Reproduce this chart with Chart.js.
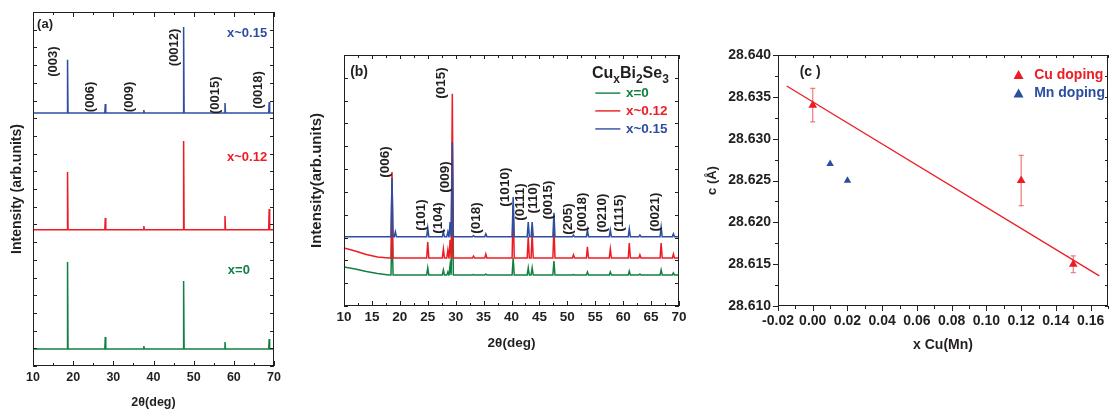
<!DOCTYPE html>
<html>
<head>
<meta charset="utf-8">
<script src="https://cdn.jsdelivr.net/npm/chart.js@4.4.1/dist/chart.umd.min.js"></script>
<style>
  body { margin: 0; background: #fff; width: 1113px; height: 410px; position: relative; overflow: hidden; }
  canvas { position: absolute; top: 0; }
</style>
</head>
<body>
<canvas id="chartA" width="285" height="410" style="left:0"></canvas>
<canvas id="chartB" width="395" height="410" style="left:300px"></canvas>
<canvas id="chartC" width="413" height="410" style="left:700px"></canvas>
<script>
// ---- panel (a): wide-range XRD, three samples stacked
const aPeakPos  = [18.6, 28.0, 37.6, 47.5, 57.8, 68.8];
const aTopBlue  = [17.30, 14.80, 14.46, 19.15, 14.86, 14.92];
const aTopRed   = [10.96, 8.36, 7.91, 12.71, 8.47, 8.87];
const aTopGreen = [5.88, 1.64, 1.13, 4.80, 1.36, 1.53];
const aBaseBlue = 14.29, aBaseRed = 7.70, aBaseGreen = 0.96;
const aHkl = ['(003)', '(006)', '(009)', '(0012)', '(0015)', '(0018)'];

// ---- panel (b): zoomed XRD
const bPeakPos  = [18.6, 19.2, 25.0, 27.8, 28.6, 29.0, 29.4, 33.2, 35.4, 40.3, 43.0, 43.7, 47.6, 51.1, 53.6, 57.7, 61.1, 63.0, 66.8, 69.0];
const bTopBlue  = [5.61, 3.25, 3.42, 3.25, 3.25, 3.68, 7.19, 3.08, 3.16, 4.78, 3.68, 3.68, 4.08, 3.11, 3.33, 3.33, 3.38, 3.11, 3.46, 3.16];
const bTopRed   = [5.87, 2.10, 2.80, 2.50, 2.45, 2.89, 9.30, 2.19, 2.28, 4.43, 3.02, 3.20, 3.42, 2.24, 2.59, 2.50, 2.76, 2.24, 2.76, 2.28];
const bTopGreen = [3.33, 1.36, 1.67, 1.58, 1.49, 1.80, 4.43, 1.38, 1.40, 2.10, 1.67, 1.67, 1.97, 1.38, 1.49, 1.49, 1.53, 1.40, 1.58, 1.45];
const bBgX      = [10, 12, 14, 16, 18];
const bBgRed    = [2.54, 2.41, 2.26, 2.15, 2.10];
const bBgGreen  = [1.71, 1.62, 1.51, 1.42, 1.36];
const bBaseBlue = 3.04, bBaseRed = 2.10, bBaseGreen = 1.36;
const bSeries = ['x=0', 'x~0.12', 'x~0.15'];

// ---- panel (c): lattice parameter c vs doping
const cuX = [0.00, 0.12, 0.15];
const cuC = [28.634, 28.625, 28.615];
const cuErr = [0.002, 0.003, 0.001];
const mnX = [0.01, 0.02];
const mnC = [28.627, 28.625];
const fitX = [-0.015, 0.165];
const fitC = [28.6363, 28.6136];

const FONT = "'Liberation Sans', Arial, sans-serif";
const INK = '#231f20';
const BLUE = '#2d4ea0', RED = '#ed1c24', GREEN = '#128040', PINK = '#f27a7a';

Chart.defaults.font.family = FONT;
Chart.defaults.color = INK;
Chart.defaults.animation = false;
Chart.defaults.plugins.legend.display = false;
Chart.defaults.plugins.tooltip.enabled = false;

// stick pattern: background points, then a narrow triangle per peak
function trace(pos, tops, base, w, bgX, bgY) {
    const pts = [];
    if (bgX) bgX.forEach((x, i) => pts.push({x: x, y: bgY[i]}));
    else pts.push({x: 10, y: base});
    pos.forEach((p, i) => {
        pts.push({x: p - w, y: base}, {x: p, y: tops[i]}, {x: p + w, y: base});
    });
    pts.push({x: 70, y: base});
    return pts;
}

function lineSet(data, color) {
    return { data: data, borderColor: color, borderWidth: 1.5, pointRadius: 0, tension: 0 };
}

// box + tick marks. each tick: [value, lenA, lenB], positive = inward
const framePlugin = {
    id: 'frame',
    afterDatasetsDraw(chart, args, o) {
        const {ctx, chartArea: a, scales: {x, y}} = chart;
        ctx.save();
        ctx.strokeStyle = INK;
        ctx.lineWidth = 1;
        ctx.strokeRect(a.left + 0.5, a.top + 0.5, a.right - a.left - 1, a.bottom - a.top - 1);
        ctx.beginPath();
        (o.xTicks || []).forEach(([v, lb, lt]) => {
            const px = Math.round(x.getPixelForValue(v)) + 0.5;
            ctx.moveTo(px, a.bottom); ctx.lineTo(px, a.bottom - lb);
            ctx.moveTo(px, a.top); ctx.lineTo(px, a.top + lt);
        });
        (o.yTicks || []).forEach(([v, ll, lr]) => {
            const py = Math.round(y.getPixelForValue(v)) + 0.5;
            ctx.moveTo(a.left, py); ctx.lineTo(a.left + ll, py);
            ctx.moveTo(a.right, py); ctx.lineTo(a.right - lr, py);
        });
        ctx.stroke();
        ctx.restore();
    }
};

// free text at data coordinates; parts allow subscripts
const notesPlugin = {
    id: 'notes',
    afterDraw(chart, args, o) {
        const {ctx, scales: {x, y}} = chart;
        (o.items || []).forEach(n => {
            ctx.save();
            ctx.translate(x.getPixelForValue(n.x), y.getPixelForValue(n.y));
            if (n.rot) ctx.rotate(-Math.PI / 2);
            ctx.fillStyle = n.color || INK;
            ctx.textBaseline = n.baseline || 'middle';
            if (n.parts) {
                let cx = 0;
                ctx.textAlign = 'left';
                n.parts.forEach(([t, sub]) => {
                    ctx.font = 'bold ' + (sub ? n.size * 0.75 : n.size) + 'px ' + FONT;
                    ctx.fillText(t, cx, sub ? n.size * 0.3 : 0);
                    cx += ctx.measureText(t).width;
                });
            } else {
                ctx.font = 'bold ' + n.size + 'px ' + FONT;
                ctx.textAlign = n.align || 'center';
                ctx.fillText(n.text, 0, 0);
            }
            ctx.restore();
        });
        (o.lines || []).forEach(l => {
            ctx.save();
            ctx.strokeStyle = l.color;
            ctx.lineWidth = 1.4;
            ctx.beginPath();
            ctx.moveTo(x.getPixelForValue(l.x0), y.getPixelForValue(l.y));
            ctx.lineTo(x.getPixelForValue(l.x1), y.getPixelForValue(l.y));
            ctx.stroke();
            ctx.restore();
        });
        (o.markers || []).forEach(m => {
            const px = x.getPixelForValue(m.x), py = y.getPixelForValue(m.y);
            ctx.save();
            ctx.fillStyle = m.color;
            ctx.beginPath();
            ctx.moveTo(px, py - 5); ctx.lineTo(px + 5, py + 4); ctx.lineTo(px - 5, py + 4);
            ctx.closePath();
            ctx.fill();
            ctx.restore();
        });
    }
};

const errPlugin = {
    id: 'errbars',
    beforeDatasetsDraw(chart) {
        const {ctx, scales: {x, y}} = chart;
        ctx.save();
        ctx.strokeStyle = PINK;
        ctx.lineWidth = 1.2;
        ctx.beginPath();
        cuX.forEach((v, i) => {
            const px = x.getPixelForValue(v);
            const y0 = y.getPixelForValue(cuC[i] - cuErr[i]);
            const y1 = y.getPixelForValue(cuC[i] + cuErr[i]);
            ctx.moveTo(px, y0); ctx.lineTo(px, y1);
            ctx.moveTo(px - 2.5, y0); ctx.lineTo(px + 2.5, y0);
            ctx.moveTo(px - 2.5, y1); ctx.lineTo(px + 2.5, y1);
        });
        ctx.stroke();
        ctx.restore();
    }
};

function range(a, b, s) {
    const out = [];
    for (let v = a; v <= b + s / 1000; v += s) out.push(Math.round(v * 10000) / 10000);
    return out;
}

const noGrid = { display: false, drawTicks: false };
const flat = { maxRotation: 0, minRotation: 0, autoSkip: false };

function loadCharts() {
    // ---------- (a)
    const aX = range(10, 70, 5).map(v => v % 10 === 0 ? [v, 5, 5] : [v, 3, 3]);
    const aY = range(0, 20, 1).map(v => [v, 4, 4]);
    new Chart(document.getElementById('chartA'), {
        type: 'line',
        data: {
            datasets: [
                lineSet(trace(aPeakPos, aTopBlue, aBaseBlue, 0.12), BLUE),
                lineSet(trace(aPeakPos, aTopRed, aBaseRed, 0.12), RED),
                lineSet(trace(aPeakPos, aTopGreen, aBaseGreen, 0.12), GREEN)
            ]
        },
        options: {
            responsive: false,
            devicePixelRatio: 1,
            layout: { padding: { left: 0, right: 11, top: 12, bottom: 0 } },
            scales: {
                x: {
                    type: 'linear', min: 10, max: 70,
                    ticks: Object.assign({ stepSize: 10, padding: 4, font: { size: 12.5, weight: 'bold' }, color: INK }, flat),
                    grid: noGrid, border: { display: false },
                    title: { display: true, text: '2θ(deg)', font: { size: 12.5, weight: 'bold' }, padding: { top: 0, bottom: 0 } },
                    afterFit: s => { s.height = 44; }
                },
                y: {
                    min: 0, max: 20,
                    ticks: { display: false },
                    grid: noGrid, border: { display: false },
                    title: { display: true, text: 'Intensity (arb.units)', font: { size: 14, weight: 'bold' }, padding: { top: 9, bottom: 0 } },
                    afterFit: s => { s.width = 33; }
                }
            },
            plugins: {
                frame: { xTicks: aX, yTicks: aY },
                notes: {
                    items: [
                        { text: '(a)', x: 13.0, y: 19.3, size: 13 },
                        { text: 'x~0.15', x: 68.3, y: 18.8, size: 13, align: 'right', color: BLUE },
                        { text: 'x~0.12', x: 68.3, y: 11.8, size: 13, align: 'right', color: RED },
                        { text: 'x=0', x: 64.0, y: 5.42, size: 13, align: 'right', color: GREEN },
                        { text: aHkl[0], x: 15.0, y: 17.2, size: 13, rot: true },
                        { text: aHkl[1], x: 24.2, y: 15.2, size: 13, rot: true },
                        { text: aHkl[2], x: 34.1, y: 15.2, size: 13, rot: true },
                        { text: aHkl[3], x: 45.3, y: 18.0, size: 13, rot: true },
                        { text: aHkl[4], x: 55.5, y: 15.3, size: 13, rot: true },
                        { text: aHkl[5], x: 66.0, y: 15.6, size: 13, rot: true }
                    ]
                }
            }
        },
        plugins: [framePlugin, notesPlugin]
    });

    // ---------- (b)
    const bX = range(10, 70, 2.5).map(v => v % 5 === 0 ? [v, 5, 4] : [v, 3, 3]);
    const bY = range(0, 11, 1).map(v => [v, 4, 4]);
    const hklB = [
        ['(006)', 17.35, 6.31], ['(101)', 23.8, 3.99], ['(104)', 26.8, 3.86], ['(009)', 28.1, 5.65],
        ['(015)', 27.5, 9.77], ['(018)', 33.7, 3.86], ['(1010)', 38.9, 5.21], ['(0111)', 41.6, 4.56],
        ['(110)', 43.9, 4.73], ['(0015)', 46.6, 4.65], ['(205)', 50.2, 3.81], ['(0018)', 52.7, 4.12],
        ['(0210)', 56.2, 4.08], ['(1115)', 59.3, 4.08], ['(0021)', 65.7, 4.12]
    ];
    new Chart(document.getElementById('chartB'), {
        type: 'line',
        data: {
            datasets: [
                lineSet(trace(bPeakPos, bTopBlue, bBaseBlue, 0.19), BLUE),
                lineSet(trace(bPeakPos, bTopRed, bBaseRed, 0.19, bBgX, bBgRed), RED),
                lineSet(trace(bPeakPos, bTopGreen, bBaseGreen, 0.19, bBgX, bBgGreen), GREEN)
            ]
        },
        options: {
            responsive: false,
            devicePixelRatio: 1,
            layout: { padding: { left: 0, right: 16, top: 55, bottom: 58 } },
            scales: {
                x: {
                    type: 'linear', min: 10, max: 70,
                    ticks: Object.assign({ stepSize: 5, padding: 3, font: { size: 13.5, weight: 'bold' }, color: INK }, flat),
                    grid: noGrid, border: { display: false },
                    title: { display: true, text: '2θ(deg)', font: { size: 13.5, weight: 'bold' }, padding: { top: 0, bottom: 1 } },
                    afterFit: s => { s.height = 46; }
                },
                y: {
                    min: 0, max: 11,
                    ticks: { display: false },
                    grid: noGrid, border: { display: false },
                    title: { display: true, text: 'Intensity(arb.units)', font: { size: 15, weight: 'bold' }, padding: { top: 8, bottom: 0 } },
                    afterFit: s => { s.width = 44; }
                }
            },
            plugins: {
                frame: { xTicks: bX, yTicks: bY },
                notes: {
                    items: [
                        { text: '(b)', x: 11.1, y: 10.25, size: 14, align: 'left' },
                        { parts: [['Cu', 0], ['x', 1], ['Bi', 0], ['2', 1], ['Se', 0], ['3', 1]], x: 54.4, y: 10.0, size: 16, baseline: 'alphabetic' },
                        { text: bSeries[0], x: 60.5, y: 9.33, size: 13.5, align: 'left', color: GREEN },
                        { text: bSeries[1], x: 60.5, y: 8.55, size: 13.5, align: 'left', color: RED },
                        { text: bSeries[2], x: 60.5, y: 7.76, size: 13.5, align: 'left', color: BLUE }
                    ].concat(hklB.map(h => ({ text: h[0], x: h[1], y: h[2], size: 13.5, rot: true }))),
                    lines: [
                        { x0: 55.0, x1: 59.5, y: 9.33, color: GREEN },
                        { x0: 55.0, x1: 59.5, y: 8.55, color: RED },
                        { x0: 55.0, x1: 59.5, y: 7.76, color: BLUE }
                    ]
                }
            }
        },
        plugins: [framePlugin, notesPlugin]
    });

    // ---------- (c)
    const cX = range(-0.02, 0.17, 0.01).map(v => Math.abs(Math.round(v * 100)) % 2 === 0 ? [v, -5, 3] : [v, -3, 3]);
    const cY = range(28.610, 28.640, 0.0025).map(v => Math.round(v * 10000) % 50 === 0 ? [v, -5, 3] : [v, -3, 3]);
    new Chart(document.getElementById('chartC'), {
        data: {
            datasets: [
                { type: 'line', data: fitX.map((v, i) => ({x: v, y: fitC[i]})), borderColor: RED, borderWidth: 1.3, pointRadius: 0 },
                { type: 'scatter', data: cuX.map((v, i) => ({x: v, y: cuC[i]})), pointStyle: 'triangle', pointRadius: 5, backgroundColor: RED, borderColor: RED, borderWidth: 0 },
                { type: 'scatter', data: mnX.map((v, i) => ({x: v, y: mnC[i]})), pointStyle: 'triangle', pointRadius: 4.3, backgroundColor: BLUE, borderColor: BLUE, borderWidth: 0 }
            ]
        },
        options: {
            responsive: false,
            devicePixelRatio: 1,
            layout: { padding: { left: 0, right: 1, top: 55, bottom: 56 } },
            scales: {
                x: {
                    type: 'linear', min: -0.02, max: 0.17,
                    ticks: Object.assign({ stepSize: 0.02, includeBounds: false, padding: 6.3, font: { size: 14, weight: 'bold' }, color: INK,
                             callback: v => v.toFixed(2) }, flat),
                    grid: noGrid, border: { display: false },
                    title: { display: true, text: 'x Cu(Mn)', font: { size: 14, weight: 'bold' }, padding: { top: 0, bottom: 0 } },
                    afterFit: s => { s.height = 48; }
                },
                y: {
                    type: 'linear', min: 28.610, max: 28.640,
                    ticks: { stepSize: 0.005, padding: 7, font: { size: 14, weight: 'bold' }, color: INK,
                             callback: v => v.toFixed(3) },
                    grid: noGrid, border: { display: false },
                    title: { display: true, text: 'c (Å)', font: { size: 13, weight: 'bold' }, padding: { top: 5, bottom: 0 } },
                    afterFit: s => { s.width = 78; }
                }
            },
            plugins: {
                frame: { xTicks: cX, yTicks: cY },
                notes: {
                    items: [
                        { text: '(c )', x: -0.0075, y: 28.6380, size: 14, align: 'left' },
                        { text: 'Cu doping', x: 0.1275, y: 28.6376, size: 14, align: 'left', color: RED },
                        { text: 'Mn doping', x: 0.1275, y: 28.6354, size: 14, align: 'left', color: BLUE }
                    ],
                    markers: [
                        { x: 0.1185, y: 28.6376, color: RED },
                        { x: 0.1185, y: 28.6354, color: BLUE }
                    ]
                }
            }
        },
        plugins: [errPlugin, framePlugin, notesPlugin]
    });
}

document.addEventListener('DOMContentLoaded', () => {
    loadCharts();
});
</script>
</body>
</html>
